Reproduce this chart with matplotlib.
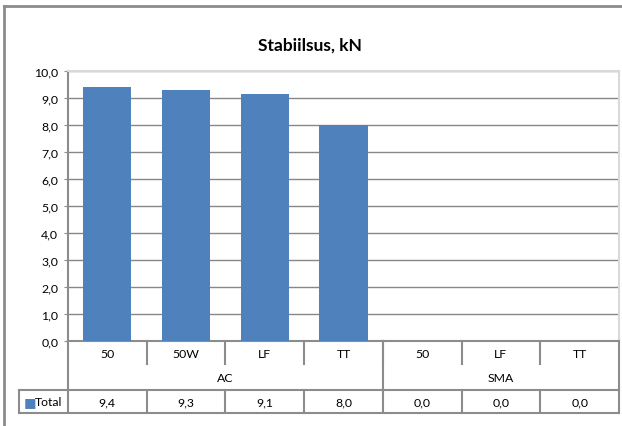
import matplotlib.pyplot as plt
from matplotlib.lines import Line2D
import matplotlib.transforms as mtransforms

plt.rcParams['font.family'] = ['Lato', 'DejaVu Sans']

groups = ['AC', 'SMA']
group_sizes = [4, 3]
categories = ['50', '50W', 'LF', 'TT', '50', 'LF', 'TT']
values = [9.42, 9.29, 9.14, 8.0, 0.0, 0.0, 0.0]
series_name = 'Total'

bar_color = '#4f81bd'
line_gray = '#8c8c8c'
W, H = 622, 427
fs = 8.8

fig = plt.figure(figsize=(W / 100, H / 100), dpi=100)
# plot area in pixels: left 68, right 619, top 72, bottom 342
ax = fig.add_axes([68 / W, (H - 342) / H, (619 - 68) / W, (342 - 72) / H])

n = len(categories)
xs = list(range(n))
ax.bar(xs, values, width=0.61, color=bar_color, zorder=3)

ax.set_xlim(-0.5, n - 0.5)
ax.set_ylim(0, 10)
ax.set_yticks(range(0, 11))
ax.set_yticklabels([f'{v:.1f}'.replace('.', ',') for v in range(0, 11)], fontsize=fs)
ax.yaxis.grid(True, color='#878787', linewidth=1, zorder=0)
ax.tick_params(axis='y', length=3, color=line_gray, pad=4)
ax.set_xticks([])
for side in ['top', 'right']:
    ax.spines[side].set_color('#d9d9d9')
    ax.spines[side].set_linewidth(1.5)
for side in ['left', 'bottom']:
    ax.spines[side].set_color(line_gray)
    ax.spines[side].set_linewidth(1.5)

fig.text(310 / W, 1 - 46 / H, 'Stabiilsus, kN', ha='center', va='center',
         fontsize=12.5, fontweight='bold')

# data table below the axis
tr = mtransforms.blended_transform_factory(ax.transData, ax.transAxes)
ph = 342 - 72
r1 = -25 / ph
r2 = -49 / ph
r3 = -72 / ph
lw = 1.5
xl = -0.5 - 49 / (551 / n)


def hline(x0, x1, y):
    ax.add_line(Line2D([x0, x1], [y, y], transform=tr, color=line_gray, lw=lw, clip_on=False))


def vline(x, y0, y1):
    ax.add_line(Line2D([x, x], [y0, y1], transform=tr, color=line_gray, lw=lw, clip_on=False))


vline(-0.5, 0, r3)
vline(n - 0.5, 0, r3)
vline(xl, r2, r3)
hline(xl, n - 0.5, r2)
hline(xl, n - 0.5, r3)

start = 0
for g, size in zip(groups, group_sizes):
    end = start + size
    if start > 0:
        vline(start - 0.5, 0, r2)
    ax.text((start + end - 1) / 2, (r1 + r2) / 2, g, transform=tr,
            ha='center', va='center', fontsize=fs)
    start = end

for i, (c, v) in enumerate(zip(categories, values)):
    if i > 0:
        vline(i - 0.5, 0, r1 + 0.006)
        vline(i - 0.5, r2, r3)
    ax.text(i, r1 / 2, c, transform=tr, ha='center', va='center', fontsize=fs)
    ax.text(i, (r2 + r3) / 2, f'{v:.1f}'.replace('.', ','), transform=tr,
            ha='center', va='center', fontsize=fs)

ax.text(xl + 0.06, (r2 + r3) / 2, '\u25a0', transform=tr, ha='left', va='center',
        fontsize=9.5, color=bar_color, family='DejaVu Sans')
ax.text(xl + 0.2, (r2 + r3) / 2, series_name, transform=tr, ha='left', va='center',
        fontsize=fs)

# outer chart border (cropped)
fig.add_artist(Line2D([4 / W, 1], [1 - 7 / H, 1 - 7 / H], color=line_gray, lw=2))
fig.add_artist(Line2D([4 / W, 4 / W], [0, 1 - 7 / H], color=line_gray, lw=2))

fig.savefig('out.png', dpi=100)
